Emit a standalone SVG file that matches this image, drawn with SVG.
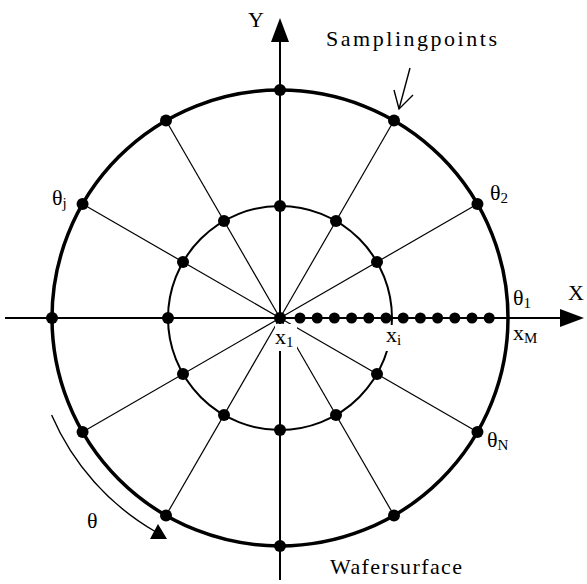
<svg xmlns="http://www.w3.org/2000/svg" width="587" height="584" viewBox="0 0 587 584">
<style>
.outer{fill:none;stroke:#000;stroke-width:3.5}
.inner{fill:none;stroke:#000;stroke-width:2}
.spoke{stroke:#000;stroke-width:1.2;fill:none}
.axis{stroke:#000;stroke-width:2;fill:none}
.thin{stroke:#000;stroke-width:1.4;fill:none}
.dot{fill:#000}
.mask{fill:#fff}
text{font-family:"Liberation Serif","Times New Roman",serif;fill:#000}
.t{font-size:22px}
.s{font-size:15px}
</style>
<rect width="587" height="584" fill="#fff"/>
<g id="wafer">
  <circle class="outer" cx="280" cy="318" r="228"/>
  <circle class="inner" cx="280" cy="318" r="112"/>
</g>
<g id="connectors">
  <g id="spokes">
    <line class="spoke" x1="280" y1="318" x2="477.45" y2="204"/>
    <line class="spoke" x1="280" y1="318" x2="394" y2="120.55"/>
    <line class="spoke" x1="280" y1="318" x2="166" y2="120.55"/>
    <line class="spoke" x1="280" y1="318" x2="82.55" y2="204"/>
    <line class="spoke" x1="280" y1="318" x2="82.55" y2="432"/>
    <line class="spoke" x1="280" y1="318" x2="166" y2="515.45"/>
    <line class="spoke" x1="280" y1="318" x2="394" y2="515.45"/>
    <line class="spoke" x1="280" y1="318" x2="477.45" y2="432"/>
  </g>
  <g id="axes">
    <line class="axis" x1="5" y1="318" x2="562" y2="318"/>
    <polygon class="dot" points="584,318 560,309 560,327"/>
    <line class="axis" x1="280" y1="580" x2="280" y2="40"/>
    <polygon class="dot" points="280,18 271,42 289,42"/>
  </g>
  <g id="rotation-arrow">
    <path class="thin" d="M 51.6 415 A 248 248 0 0 0 156 532"/>
    <polygon class="dot" points="167,539 150,539 158,524"/>
  </g>
  <g id="sampling-arrow">
    <line class="thin" x1="410" y1="68" x2="399" y2="109"/>
    <polyline class="thin" points="394,90 399,109 413,95"/>
  </g>
</g>
<g id="label-masks">
  <rect class="mask" x="275" y="324" width="22" height="27"/>
  <rect class="mask" x="384" y="325" width="21" height="26"/>
</g>
<g id="outer-points">
  <circle class="dot" cx="280" cy="90" r="6"/>
  <circle class="dot" cx="394" cy="120.55" r="6"/>
  <circle class="dot" cx="477.45" cy="204" r="6"/>
  <circle class="dot" cx="477.45" cy="432" r="6"/>
  <circle class="dot" cx="394" cy="515.45" r="6"/>
  <circle class="dot" cx="280" cy="546" r="6"/>
  <circle class="dot" cx="166" cy="515.45" r="6"/>
  <circle class="dot" cx="82.55" cy="432" r="6"/>
  <circle class="dot" cx="52" cy="318" r="6"/>
  <circle class="dot" cx="82.55" cy="204" r="6"/>
  <circle class="dot" cx="166" cy="120.55" r="6"/>
</g>
<g id="inner-points">
  <circle class="dot" cx="280" cy="206" r="6"/>
  <circle class="dot" cx="336" cy="221" r="6"/>
  <circle class="dot" cx="377" cy="262" r="6"/>
  <circle class="dot" cx="377" cy="374" r="6"/>
  <circle class="dot" cx="336" cy="415" r="6"/>
  <circle class="dot" cx="280" cy="430" r="6"/>
  <circle class="dot" cx="224" cy="415" r="6"/>
  <circle class="dot" cx="183" cy="374" r="6"/>
  <circle class="dot" cx="168" cy="318" r="6"/>
  <circle class="dot" cx="183" cy="262" r="6"/>
  <circle class="dot" cx="224" cy="221" r="6"/>
  <circle class="dot" cx="280" cy="318" r="6"/>
</g>
<g id="radial-points">
  <circle class="dot" cx="300" cy="318" r="5.5"/>
  <circle class="dot" cx="317.2" cy="318" r="5.5"/>
  <circle class="dot" cx="334.4" cy="318" r="5.5"/>
  <circle class="dot" cx="351.6" cy="318" r="5.5"/>
  <circle class="dot" cx="368.8" cy="318" r="5.5"/>
  <circle class="dot" cx="386" cy="318" r="5.5"/>
  <circle class="dot" cx="403.2" cy="318" r="5.5"/>
  <circle class="dot" cx="420.4" cy="318" r="5.5"/>
  <circle class="dot" cx="437.6" cy="318" r="5.5"/>
  <circle class="dot" cx="454.8" cy="318" r="5.5"/>
  <circle class="dot" cx="472" cy="318" r="5.5"/>
  <circle class="dot" cx="489.2" cy="318" r="5.5"/>
</g>
<g id="labels">
  <text class="t" x="248" y="27">Y</text>
  <text class="t" x="568" y="300">X</text>
  <text class="t" x="326" y="46" textLength="171" lengthAdjust="spacing">Samplingpoints</text>
  <text class="t" x="490" y="200">θ<tspan class="s" dy="3">2</tspan></text>
  <text class="t" x="513" y="305">θ<tspan class="s" dy="3">1</tspan></text>
  <text class="t" x="487" y="447">θ<tspan class="s" dy="3">N</tspan></text>
  <text class="t" x="52" y="205">θ<tspan class="s" dy="3">j</tspan></text>
  <text class="t" x="87" y="528">θ</text>
  <text class="t" x="275" y="344">x<tspan class="s" dy="3">1</tspan></text>
  <text class="t" x="386" y="342">x<tspan class="s" dy="3">i</tspan></text>
  <text class="t" x="513" y="340">x<tspan class="s" dy="3">M</tspan></text>
  <text class="t" x="330" y="574" textLength="132" lengthAdjust="spacing">Wafersurface</text>
</g>
</svg>
